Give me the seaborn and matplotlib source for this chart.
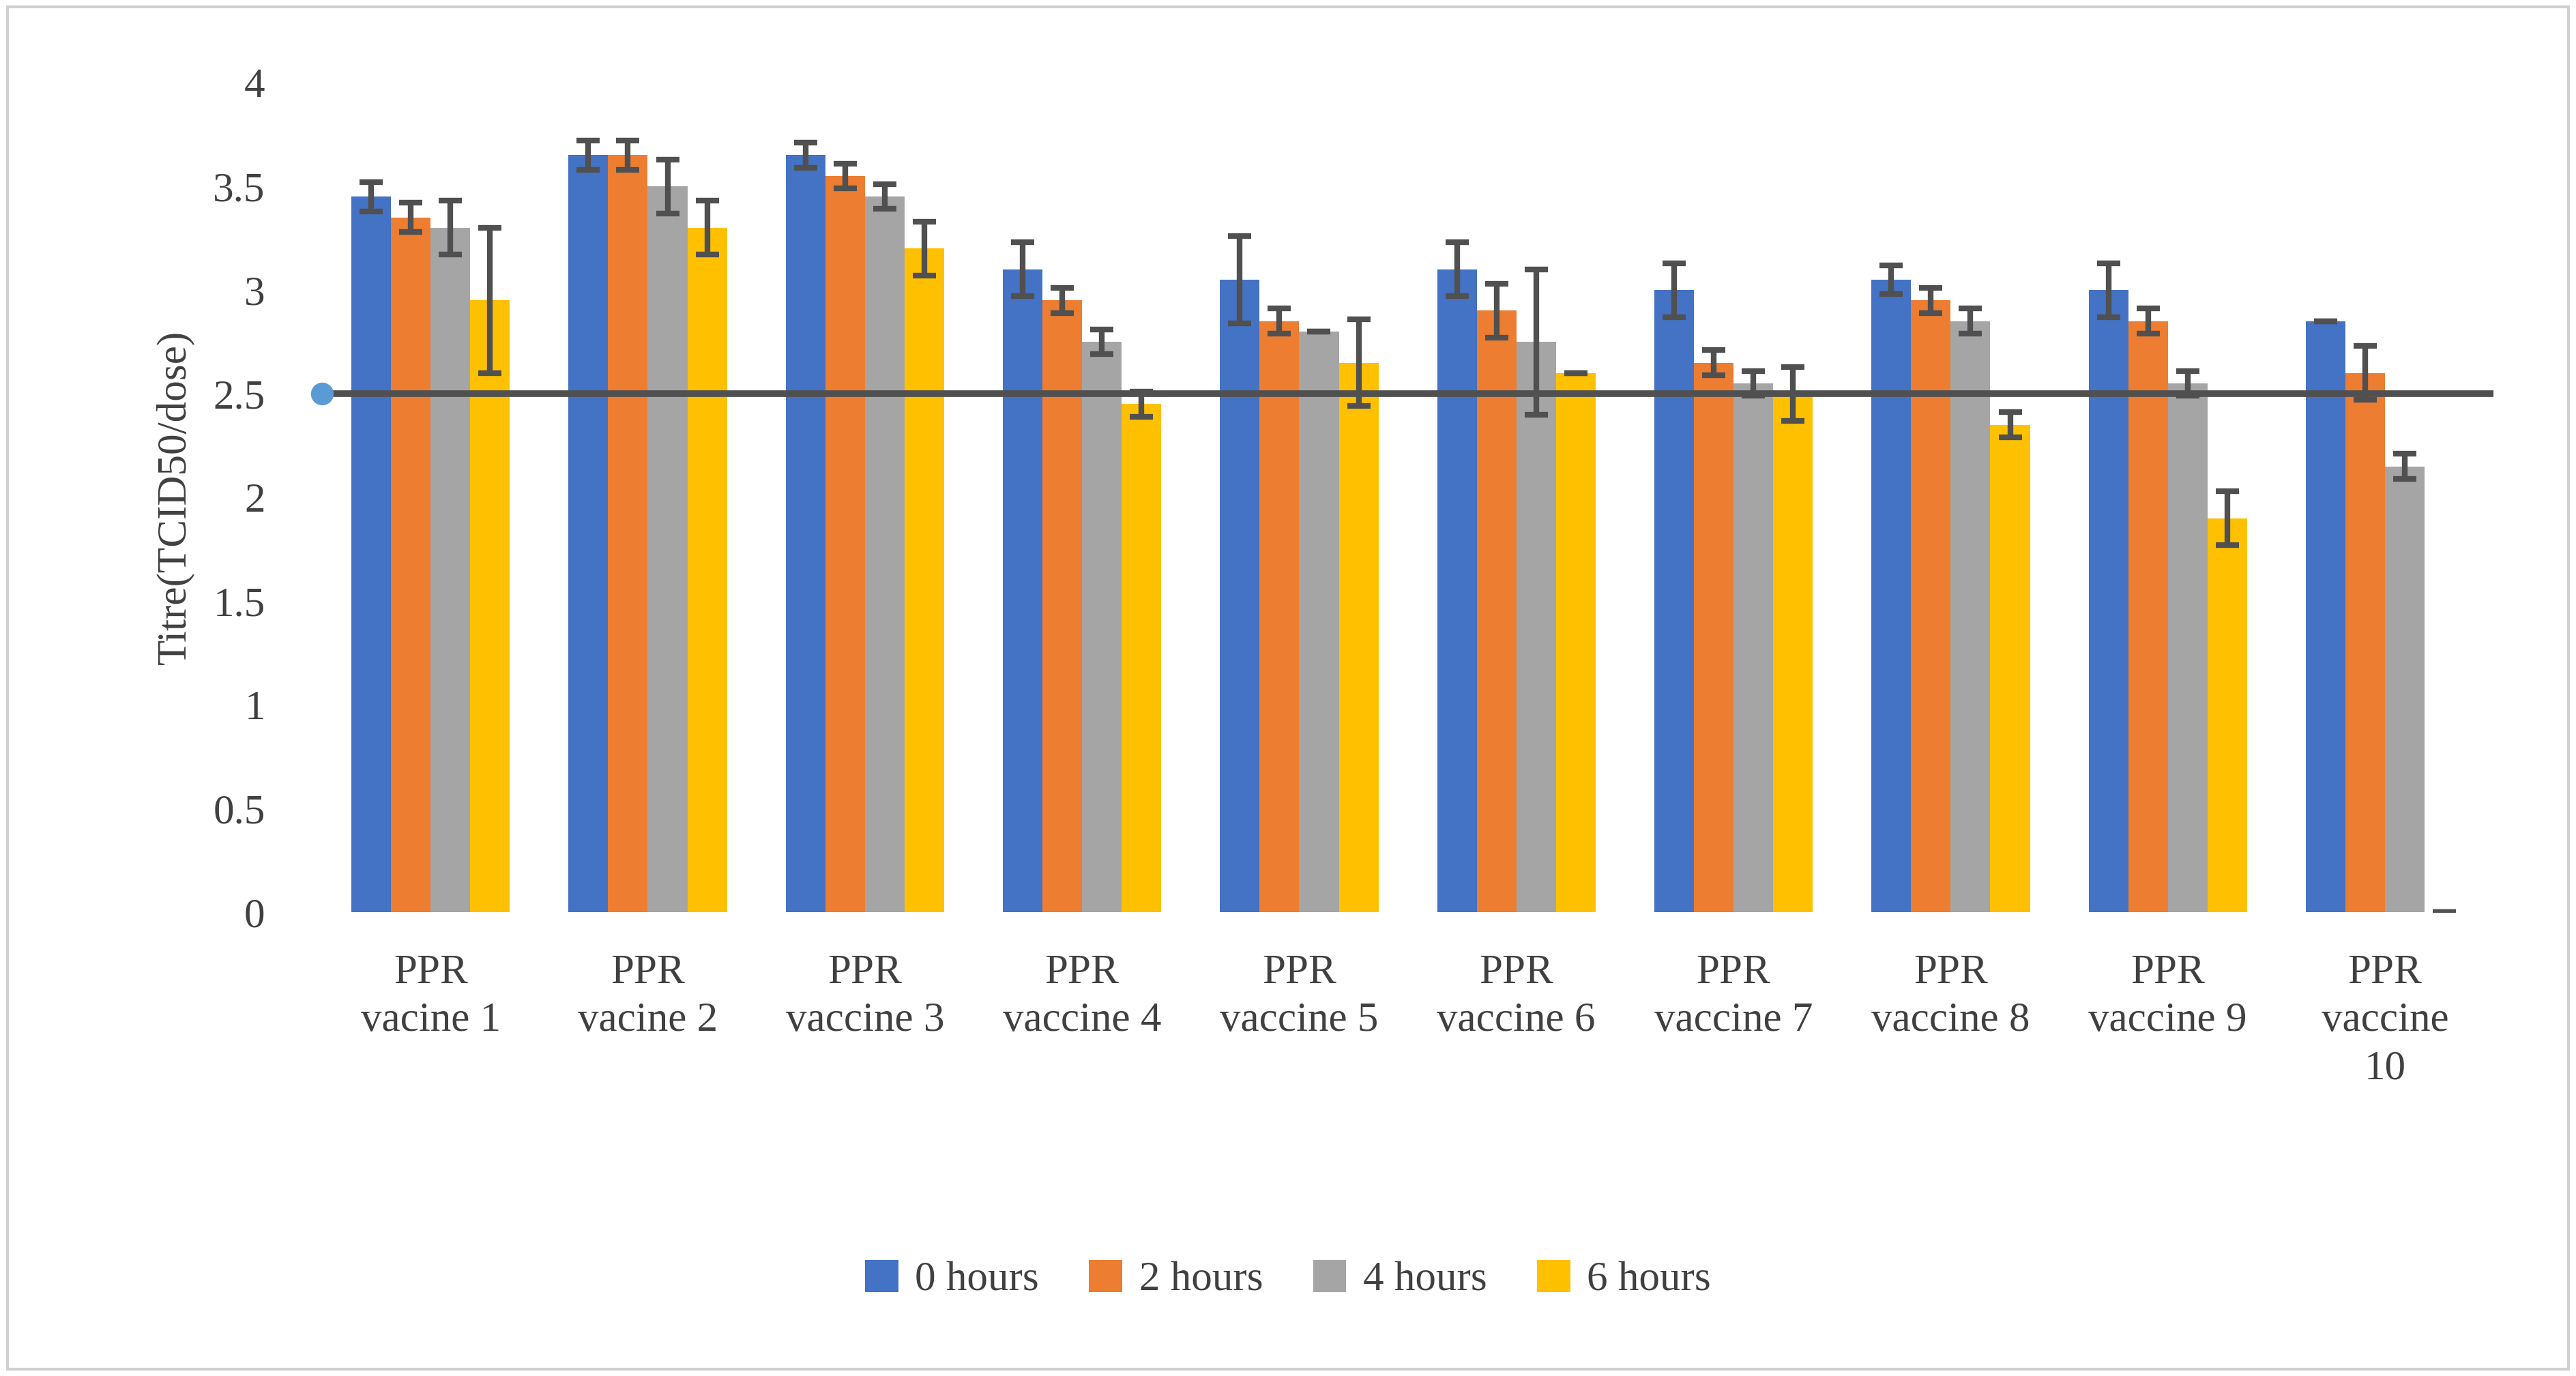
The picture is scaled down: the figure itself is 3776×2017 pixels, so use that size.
import numpy as np
import pandas as pd
import matplotlib
matplotlib.use('Agg')
import matplotlib.pyplot as plt
import seaborn as sns

categories = ['PPR\nvacine 1', 'PPR\nvacine 2', 'PPR\nvaccine 3', 'PPR\nvaccine 4', 'PPR\nvaccine 5',
              'PPR\nvaccine 6', 'PPR\nvaccine 7', 'PPR\nvaccine 8', 'PPR\nvaccine 9', 'PPR\nvaccine\n10']
series = ['0 hours', '2 hours', '4 hours', '6 hours']
h0 = [3.45, 3.65, 3.65, 3.10, 3.05, 3.10, 3.00, 3.05, 3.00, 2.85]
h2 = [3.35, 3.65, 3.55, 2.95, 2.85, 2.90, 2.65, 2.95, 2.85, 2.60]
h4 = [3.30, 3.50, 3.45, 2.75, 2.80, 2.75, 2.55, 2.85, 2.55, 2.15]
h6 = [2.95, 3.30, 3.20, 2.45, 2.65, 2.60, 2.50, 2.35, 1.90, 0.00]
e0 = [0.07, 0.07, 0.06, 0.13, 0.21, 0.13, 0.13, 0.07, 0.13, 0.00]
e2 = [0.07, 0.07, 0.06, 0.06, 0.06, 0.13, 0.06, 0.06, 0.06, 0.13]
e4 = [0.13, 0.13, 0.06, 0.06, 0.00, 0.35, 0.06, 0.06, 0.06, 0.06]
e6 = [0.35, 0.13, 0.13, 0.06, 0.21, 0.00, 0.13, 0.06, 0.13, 0.00]
threshold = 2.5
colors = ['#4472C4', '#ED7D31', '#A5A5A5', '#FFC000']

vals = [h0, h2, h4, h6]
errs = [e0, e2, e4, e6]
df = pd.DataFrame({
    'vaccine': categories * 4,
    'series': np.repeat(series, len(categories)),
    'titre': np.concatenate(vals),
})

plt.rcParams['font.family'] = 'Liberation Serif'
fig = plt.figure(figsize=(18.88, 10.085), dpi=200)
ax = fig.add_axes([0.125, 0.337, 0.843, 0.603])
sns.barplot(data=df, x='vaccine', y='titre', hue='series', palette=colors,
            width=0.73, gap=0, errorbar=None, ax=ax, saturation=1)

n = len(categories)
bar_containers = list(ax.containers)
for k, cont in enumerate(bar_containers):
    for i, p in enumerate(cont.patches):
        xc = p.get_x() + p.get_width() / 2
        ax.errorbar(xc, vals[k][i], yerr=errs[k][i], fmt='none', ecolor='#505050',
                    elinewidth=3, capsize=6, capthick=3, zorder=5)

ax.plot([-0.5, n - 0.5], [threshold, threshold], color='#505050', lw=3.5, zorder=6)
ax.plot([-0.5], [threshold], 'o', color='#5B9BD5', ms=11, zorder=7, clip_on=False)

ax.set_xlim(-0.5, n - 0.5)
ax.set_ylim(0, 4)
ax.set_yticks(np.arange(0, 4.01, 0.5))
ax.set_yticklabels(['0', '0.5', '1', '1.5', '2', '2.5', '3', '3.5', '4'])
ax.tick_params(axis='y', labelsize=22, length=0, pad=30, colors='#404040')
ax.tick_params(axis='x', labelsize=22, length=0, pad=22, colors='#404040')
for lbl in ax.get_xticklabels():
    lbl.set_verticalalignment('top')
    lbl.set_linespacing(1.35)
ax.set_xlabel('')
ax.set_ylabel('Titre(TCID50/dose)', fontsize=22, color='#404040', labelpad=10)
for s in ax.spines.values():
    s.set_visible(False)

handles, labels = ax.get_legend_handles_labels()
ax.legend(handles, labels, loc='center', bbox_to_anchor=(0.5, 0.07), bbox_transform=fig.transFigure,
          ncol=4, frameon=False, fontsize=22, handlelength=0.8, handleheight=0.8,
          columnspacing=1.2, handletextpad=0.4, labelcolor='#404040')

fig.patches.append(plt.Rectangle((0.003, 0.005), 0.994, 0.99, transform=fig.transFigure,
                                 fill=False, edgecolor='#D0D0D0', lw=1.5))
fig.savefig('out.png', dpi=200)
